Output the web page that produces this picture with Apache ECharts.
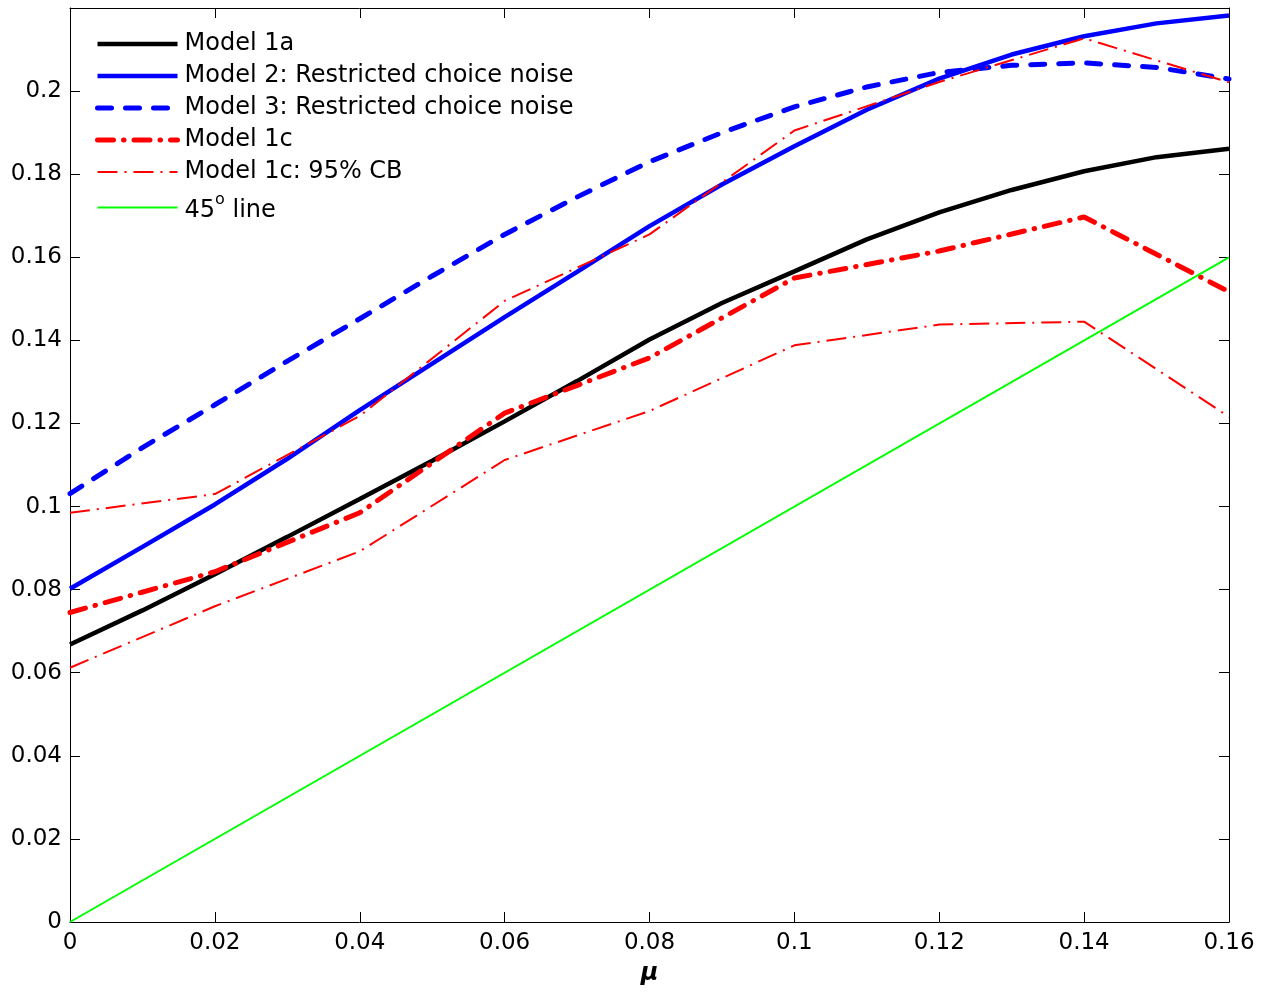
<!DOCTYPE html>
<html>
<head>
<meta charset="utf-8">
<script src="https://cdn.jsdelivr.net/npm/echarts@6/dist/echarts.min.js"></script>
<style>
  html, body { margin: 0; padding: 0; background: #fff; }
  #chart { width: 1272px; height: 992px; }
</style>
</head>
<body>
<div id="chart"></div>
<script>
// mu grid (fine = every 0.01, coarse = every 0.02)
const muFine = [0, 0.01, 0.02, 0.03, 0.04, 0.05, 0.06, 0.07, 0.08, 0.09, 0.1, 0.11, 0.12, 0.13, 0.14, 0.15, 0.16];
const muCoarse = [0, 0.02, 0.04, 0.06, 0.08, 0.1, 0.12, 0.14, 0.16];

// values
const model1a = [0.0668, 0.0750, 0.0837, 0.0927, 0.1018, 0.1110, 0.1205, 0.1302, 0.1402, 0.1490, 0.1566, 0.1643, 0.1708, 0.1762, 0.1807, 0.1841, 0.1861];
const model2  = [0.0802, 0.0903, 0.1005, 0.1115, 0.1232, 0.1344, 0.1456, 0.1565, 0.1675, 0.1775, 0.1867, 0.1955, 0.2030, 0.2088, 0.2132, 0.2163, 0.2182];
const model3  = [0.1031, 0.1142, 0.1245, 0.1350, 0.1452, 0.1555, 0.1655, 0.1745, 0.1830, 0.1900, 0.1962, 0.2010, 0.2045, 0.2062, 0.2068, 0.2057, 0.2029];
const model1c = [0.0745, 0.0843, 0.0985, 0.1225, 0.1358, 0.1550, 0.1615, 0.1697, 0.1517];
const cbUpper = [0.0985, 0.1030, 0.1218, 0.1495, 0.1655, 0.1905, 0.2022, 0.2127, 0.2021];
const cbLower = [0.0612, 0.0760, 0.0892, 0.1112, 0.1230, 0.1388, 0.1438, 0.1445, 0.1216];
const line45  = [[0, 0], [0.16, 0.16]];

const xTicks = { min: 0, max: 0.16, step: 0.02 };
const yTicks = { min: 0, max: 0.22, step: 0.02 };

const NAME_1A = 'Model 1a';
const NAME_2 = 'Model 2: Restricted choice noise';
const NAME_3 = 'Model 3: Restricted choice noise';
const NAME_1C = 'Model 1c';
const NAME_CB = 'Model 1c: 95% CB';
const NAME_45 = '45o line';

// line styles, shared by series and legend icons
const styles = {};
styles[NAME_1A] = { color: '#000000', width: 4.5 };
styles[NAME_2]  = { color: '#0000ff', width: 4.5 };
styles[NAME_3]  = { color: '#0000ff', width: 5, type: [14, 14], cap: 'round' };
styles[NAME_1C] = { color: '#ff0000', width: 5, type: [16, 10, 0.5, 10], cap: 'round' };
styles[NAME_CB] = { color: '#ff0000', width: 2, type: [20, 7, 2, 7] };
styles[NAME_45] = { color: '#00ff00', width: 2 };

function pairs(xs, ys) {
  return xs.map((x, i) => [x, ys[i]]);
}

function lineSeries(name, data) {
  return {
    name: name, type: 'line', symbol: 'none',
    data: data,
    lineStyle: styles[name],
    itemStyle: { color: styles[name].color }
  };
}

const chart = echarts.init(document.getElementById('chart'));
const font = 'DejaVu Sans';

const axisCommon = {
  type: 'value',
  axisLine: { show: true, onZero: false, lineStyle: { color: '#000', width: 1 } },
  axisTick: { show: true, inside: true, length: 10, lineStyle: { color: '#000', width: 1 } },
  splitLine: { show: false }
};

const legendNames = [NAME_1A, NAME_2, NAME_3, NAME_1C, NAME_CB, NAME_45];

const option = {
  animation: false,
  backgroundColor: '#fff',
  grid: { left: 70, right: 43, top: 8, bottom: 70 },
  legend: {
    orient: 'vertical',
    left: 95,
    top: 32,
    padding: 0,
    itemWidth: 80,
    itemHeight: 14,
    itemGap: 8,
    selectedMode: false,
    itemStyle: { opacity: 0 },
    data: legendNames.map(n => ({ name: n, lineStyle: styles[n] })),
    formatter: function (name) {
      if (name === NAME_45) return '{n|45}{sup|o}{n| line}';
      return '{n|' + name + '}';
    },
    textStyle: {
      fontFamily: font,
      fontSize: 24,
      color: '#000',
      padding: [0, 0, 0, 2],
      rich: {
        n: { fontFamily: font, fontSize: 24, color: '#000', verticalAlign: 'bottom' },
        sup: { fontFamily: font, fontSize: 16, color: '#000', verticalAlign: 'bottom', padding: [0, 0, 15, 0] }
      }
    }
  },
  xAxis: [
    Object.assign({}, axisCommon, {
      position: 'bottom',
      min: xTicks.min, max: xTicks.max, interval: xTicks.step,
      name: 'μ',
      nameLocation: 'middle',
      nameGap: 40,
      nameTextStyle: { fontFamily: font, fontSize: 24, fontStyle: 'italic', fontWeight: 'bold', color: '#000' },
      axisLabel: { fontFamily: font, fontSize: 23, color: '#000', margin: 10 }
    }),
    Object.assign({}, axisCommon, {
      position: 'top',
      min: xTicks.min, max: xTicks.max, interval: xTicks.step,
      axisLabel: { show: false }
    })
  ],
  yAxis: [
    Object.assign({}, axisCommon, {
      position: 'left',
      min: yTicks.min, max: yTicks.max, interval: yTicks.step,
      axisLabel: { fontFamily: font, fontSize: 23, color: '#000', margin: 8, showMaxLabel: false }
    }),
    Object.assign({}, axisCommon, {
      position: 'right',
      min: yTicks.min, max: yTicks.max, interval: yTicks.step,
      axisLabel: { show: false }
    })
  ],
  series: [
    lineSeries(NAME_1A, pairs(muFine, model1a)),
    lineSeries(NAME_2, pairs(muFine, model2)),
    lineSeries(NAME_3, pairs(muFine, model3)),
    lineSeries(NAME_1C, pairs(muCoarse, model1c)),
    lineSeries(NAME_CB, pairs(muCoarse, cbUpper)),
    lineSeries(NAME_CB, pairs(muCoarse, cbLower)),
    lineSeries(NAME_45, line45)
  ]
};

chart.setOption(option);
</script>
</body>
</html>
